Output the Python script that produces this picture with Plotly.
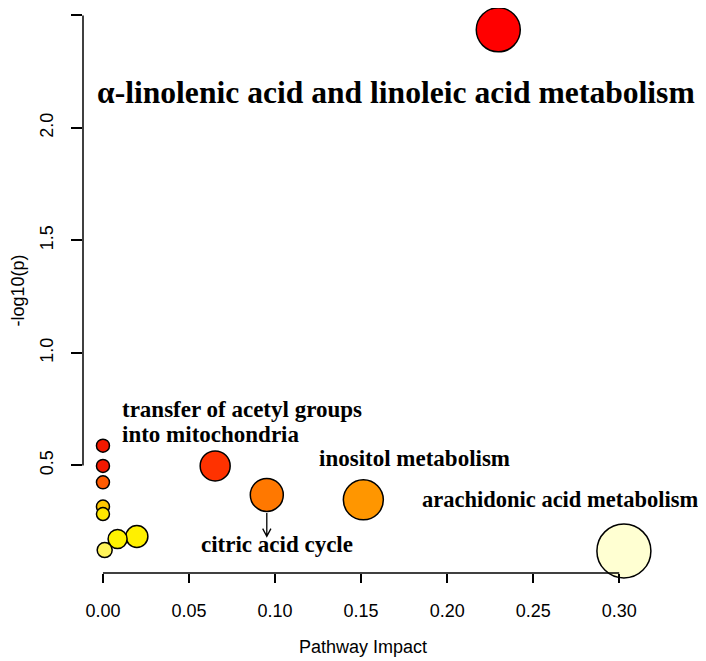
import plotly.graph_objects as go

# pathway impact vs -log10(p)
impact = [0.2297, 0.3027, 0.1513, 0.0952, 0.0652, 0.0197, 0.0085, 0.001, 0.0, 0.0, 0.0, 0.0, 0.0]
neg_log_p = [2.436, 0.120, 0.347, 0.369, 0.498, 0.184, 0.173, 0.124, 0.317, 0.284, 0.425, 0.498, 0.588]
bubble_px = [44, 54, 40, 33, 30, 22, 19, 15, 13, 13, 13, 13, 13]
bubble_col = ['#FF0000', '#FFFFD2', '#FF9600', '#FF7800', '#FF3200', '#FFF000', '#FFF200',
              '#FFF35A', '#FFC800', '#FFE800', '#FF5A00', '#F21800', '#F21800']

labels = ['α-linolenic acid and linoleic acid metabolism',
          'transfer of acetyl groups', 'into mitochondria',
          'inositol metabolism', 'arachidonic acid metabolism', 'citric acid cycle']
label_x = [0.1700, 0.0101, 0.0101, 0.1244, 0.1840, 0.0559]
label_y = [2.156, 0.747, 0.636, 0.529, 0.347, 0.147]
label_size = [31.6, 23, 23, 23, 22.5, 23]

x_ticks = [0.00, 0.05, 0.10, 0.15, 0.20, 0.25, 0.30]
y_ticks = [0.5, 1.0, 1.5, 2.0, 2.5]

x_range = [-0.0116, 0.3138]
y_range = [0.022, 2.533]

fig = go.Figure()

fig.add_trace(go.Scatter(
    x=impact, y=neg_log_p, mode='markers', cliponaxis=False,
    marker=dict(size=bubble_px, sizemode='diameter', color=bubble_col,
                line=dict(color='black', width=1.5), opacity=1),
    hoverinfo='x+y', showlegend=False
))

serif = 'Liberation Serif, Times New Roman, serif'
for i, txt in enumerate(labels):
    # first label (the big one) is centred on its spot, the rest start at it
    fig.add_annotation(x=label_x[i], y=label_y[i], text='<b>' + txt + '</b>', showarrow=False,
                       xanchor='center' if i == 0 else 'left', yanchor='middle',
                       font=dict(family=serif, size=label_size[i], color='black'))

# little open arrow from the citric acid cycle bubble down to its label
ax_x = impact[3]
top = neg_log_p[3] - 0.08
tip = 0.185
hw = 0.0024
hl = 0.034
fig.add_shape(type='path', xref='x', yref='y',
              path=f'M {ax_x},{top} L {ax_x},{tip} M {ax_x - hw},{tip + hl} L {ax_x},{tip} L {ax_x + hw},{tip + hl}',
              line=dict(color='black', width=1.3))

# R style axis lines, only between the outer ticks
fig.add_shape(type='line', xref='paper', yref='y', x0=0, x1=0, y0=y_ticks[0], y1=y_ticks[-1],
              line=dict(color='black', width=1.5))
fig.add_shape(type='line', xref='x', yref='paper', x0=x_ticks[0], x1=x_ticks[-1], y0=0, y1=0,
              line=dict(color='black', width=1.5))

sans = 'Liberation Sans, Arial, sans-serif'
fig.update_xaxes(range=x_range, tickvals=x_ticks, ticktext=[f'{v:.2f}' for v in x_ticks],
                 ticks='outside', ticklen=9, tickwidth=1.5, tickcolor='black',
                 showgrid=False, zeroline=False, showline=False, automargin=False,
                 tickfont=dict(family=sans, size=18, color='black'), ticklabelstandoff=12,
                 title=dict(text='Pathway Impact', font=dict(family=sans, size=18, color='black'),
                            standoff=20))
fig.update_yaxes(range=y_range, tickvals=y_ticks, ticktext=[f'{v:.1f}' for v in y_ticks],
                 ticks='outside', ticklen=11, tickwidth=1.5, tickcolor='black', tickangle=-90,
                 showgrid=False, zeroline=False, showline=False, automargin=False,
                 tickfont=dict(family=sans, size=18, color='black'), ticklabelstandoff=11,
                 title=dict(text='-log10(p)', font=dict(family=sans, size=18, color='black'),
                            standoff=12))

# page body keeps its 8px margin, so the figure is 8px smaller and shifted
fig.update_layout(width=698, height=653,
                  margin=dict(l=75, r=63, t=0, b=88),
                  plot_bgcolor='white', paper_bgcolor='white')

fig.write_html('out.html')
